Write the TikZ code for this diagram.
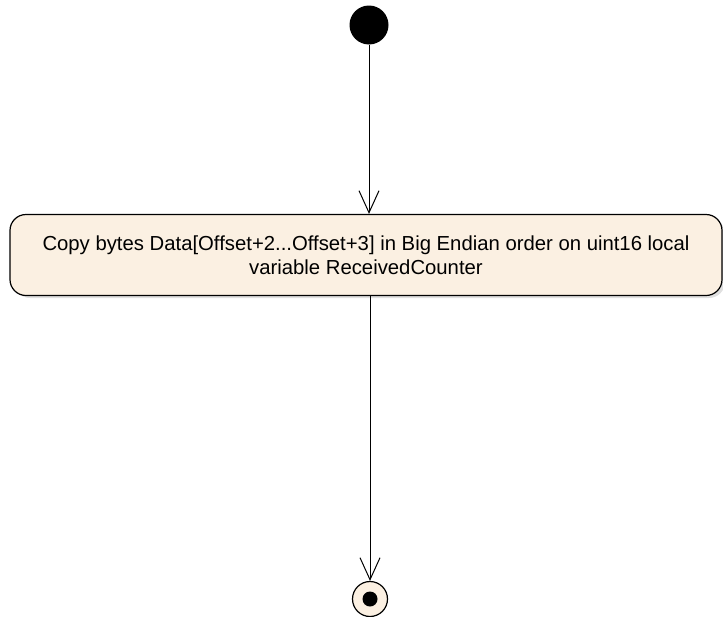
\documentclass[tikz,border=0pt]{standalone}
\usepackage{fontspec}
\setmainfont{Liberation Sans}
\usetikzlibrary{arrows.meta}
\definecolor{actfill}{HTML}{FBF0E2}
\tikzset{
  openarrow/.style={-{Straight Barb[length=22pt,width=20pt,line width=1pt]}, line width=1pt},
  actbox/.style={draw, line width=1.2pt, fill=actfill, rounded corners=16pt, minimum width=712pt, minimum height=81pt, inner sep=0pt},
  acttext/.style={align=center, inner sep=0pt, font=\fontsize{20.3}{24.5}\selectfont},
}
\begin{document}
\begin{tikzpicture}[x=1pt,y=-1pt]
\useasboundingbox (0,0) rectangle (723,616);
\node[circle, fill=black, minimum size=39pt, inner sep=0pt] (start) at (369,25) {};
\fill[black!12, rounded corners=16pt] (14,218) rectangle (725,298);
\node[actbox] (act) at (366,255) {};
\node[acttext] (label) at (act.center) {Copy bytes Data[Offset+2...Offset+3] in Big Endian order on uint16 local\\variable ReceivedCounter};
\node[circle, draw, line width=1.2pt, fill=actfill, minimum size=35pt, inner sep=0pt] (final) at (370,599) {};
\fill[black] (final.center) circle (7.5pt);
\draw[openarrow] (start) -- (act.north -| start);
\draw[openarrow] (act.south -| final) -- (final);
\end{tikzpicture}
\end{document}
